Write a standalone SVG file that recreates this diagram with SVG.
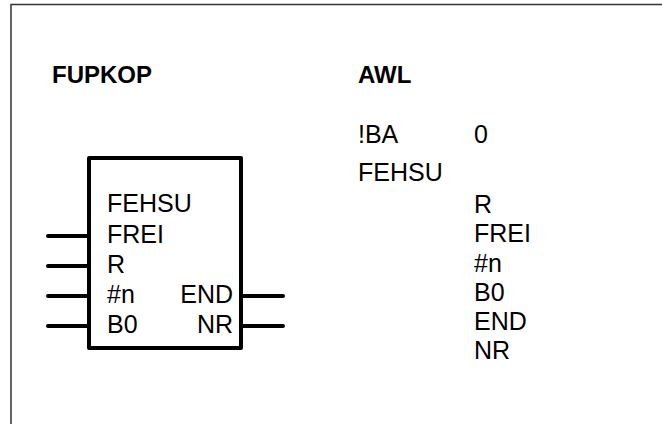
<svg xmlns="http://www.w3.org/2000/svg" width="662" height="424" viewBox="0 0 662 424">
<style>
text{font-family:"Liberation Sans",Arial,sans-serif;font-size:25px;fill:#000}
.h{font-weight:bold;font-size:24px}
.pin{stroke:#000;stroke-width:4;stroke-linecap:round;fill:none}
.frame{stroke:#333;stroke-width:1.5;fill:none}
</style>
<rect width="662" height="424" fill="#fff"/>
<path class="frame" d="M11,424 V4.5 H662"/>
<text class="h" x="52" y="83">FUPKOP</text>
<text class="h" x="358" y="83">AWL</text>
<g id="block">
<rect x="89" y="158" width="152" height="190" fill="#fff" stroke="#000" stroke-width="4" stroke-linejoin="round"/>
<text x="107" y="212">FEHSU</text>
<text x="107" y="243">FREI</text>
<text x="107" y="273">R</text>
<text x="107" y="303">#n</text>
<text x="107" y="333">B0</text>
<text x="233" y="303" text-anchor="end">END</text>
<text x="233" y="333" text-anchor="end">NR</text>
</g>
<g id="connectors">
<path class="pin" d="M48,236 H89 M48,266 H89 M48,296 H89 M48,326 H89 M241,296 H283 M241,326 H283"/>
</g>
<g id="awl">
<text x="358" y="143">!BA</text>
<text x="474" y="143">0</text>
<text x="358" y="181">FEHSU</text>
<text x="474" y="213">R</text>
<text x="474" y="242">FREI</text>
<text x="474" y="271.5">#n</text>
<text x="474" y="300.5">B0</text>
<text x="474" y="330">END</text>
<text x="474" y="359">NR</text>
</g>
</svg>
